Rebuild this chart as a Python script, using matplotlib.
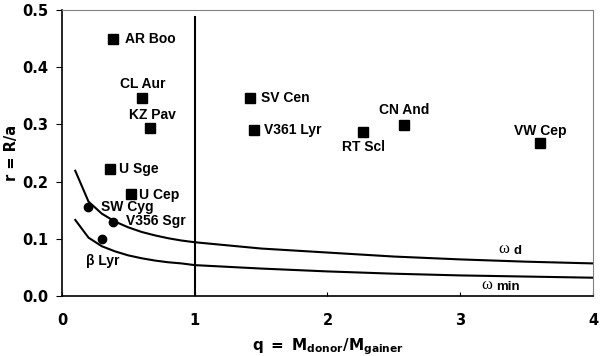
import matplotlib
matplotlib.use("Agg")
from matplotlib import pyplot as plt

# systems (Algols)
sq_names = ["AR Boo", "CL Aur", "KZ Pav", "U Sge", "U Cep",
            "SV Cen", "V361 Lyr", "RT Scl", "CN And", "VW Cep"]
sq_q = [0.385, 0.60, 0.664, 0.362, 0.52, 1.419, 1.449, 2.264, 2.576, 3.60]
sq_r = [0.449, 0.347, 0.293, 0.222, 0.178, 0.347, 0.291, 0.286, 0.2995, 0.267]

dot_names = ["SW Cyg", "V356 Sgr", "\u03b2 Lyr"]
dot_q = [0.199, 0.387, 0.30]
dot_r = [0.155, 0.130, 0.100]

# label positions (data coords) and alignment
sq_lab_x = [0.475, 0.611, 0.679, 0.432, 0.583, 1.502, 1.519, 2.275, 2.579, 3.60]
sq_lab_y = [0.449, 0.370, 0.316, 0.222, 0.177, 0.347, 0.291, 0.2605, 0.326, 0.289]
sq_lab_ha = ["left", "center", "center", "left", "left",
             "left", "left", "center", "center", "center"]
dot_lab_x = [0.292, 0.481, 0.181]
dot_lab_y = [0.156, 0.131, 0.0617]

# critical radius curves
curve_q = [0.1, 0.2, 0.3, 0.4, 0.5, 0.6, 0.7, 0.8, 0.9, 1.0,
           1.5, 2.0, 2.5, 3.0, 3.5, 4.0]
omega_d = [0.219, 0.165, 0.144, 0.130, 0.120, 0.112, 0.106, 0.101, 0.097, 0.094,
           0.083, 0.076, 0.069, 0.064, 0.060, 0.057]
omega_min = [0.133, 0.102, 0.087, 0.078, 0.071, 0.066, 0.062, 0.059, 0.057, 0.054,
             0.048, 0.043, 0.039, 0.036, 0.034, 0.032]

x_ticks = [0, 1, 2, 3, 4]
y_ticks = [0.0, 0.1, 0.2, 0.3, 0.4, 0.5]

plt.rcParams["mathtext.fontset"] = "dejavusans"

fig = plt.figure(figsize=(6, 3.56), dpi=100)
ax = fig.add_axes([0.1033, 0.1685, 0.885, 0.8034])

ax.plot(curve_q, omega_d, color="black", lw=1.5)
ax.plot(curve_q, omega_min, color="black", lw=1.5)
ax.plot([1, 1], [0, 0.488], color="black", lw=1.5)

ax.plot(sq_q, sq_r, "s", color="black", ms=7, ls="none")
ax.plot(dot_q, dot_r, "o", color="black", ms=6, ls="none")

lab_font = dict(family="Liberation Sans", weight="bold", fontsize=10)
for name, x, y, ha in zip(sq_names, sq_lab_x, sq_lab_y, sq_lab_ha):
    ax.text(x, y, name, ha=ha, va="center", **lab_font)
for name, x, y in zip(dot_names, dot_lab_x, dot_lab_y):
    ax.text(x, y, name, ha="left", va="center", **lab_font)

# omega labels
ax.text(3.33, 0.082, "\u03c9", family="Liberation Serif", fontsize=12, ha="center", va="center")
ax.text(3.40, 0.078, "d", family="Liberation Sans", weight="bold", fontsize=9.5, ha="left", va="center")
ax.text(3.20, 0.019, "\u03c9", family="Liberation Serif", fontsize=12, ha="center", va="center")
ax.text(3.27, 0.015, "min", family="Liberation Sans", weight="bold", fontsize=9.5, ha="left", va="center")

ax.set_xlim(0, 4)
ax.set_ylim(0, 0.5)
ax.set_xticks(x_ticks)
ax.set_xticklabels([str(t) for t in x_ticks])
ax.set_yticks(y_ticks)
ax.set_yticklabels(["%.1f" % t for t in y_ticks])
ax.tick_params(axis="x", direction="in", length=3, pad=12, labelsize=10.5)
ax.tick_params(axis="y", direction="out", length=4, pad=6, labelsize=10.5)
for lab in ax.get_xticklabels() + ax.get_yticklabels():
    lab.set_fontweight("bold")

ax.spines["left"].set_linewidth(1.2)
ax.spines["bottom"].set_linewidth(1.2)
for s in ["top", "right"]:
    ax.spines[s].set_color("gray")
    ax.spines[s].set_linewidth(0.8)

ax.set_ylabel("r = R/a", fontsize=10.5, fontweight="bold")
ax.yaxis.set_label_coords(-0.081, 0.5)
ax.set_xlabel(r"$\mathbf{q\ =\ M_{donor}/M_{gainer}}$", fontsize=11, labelpad=6)

fig.savefig("out.png", dpi=100)
